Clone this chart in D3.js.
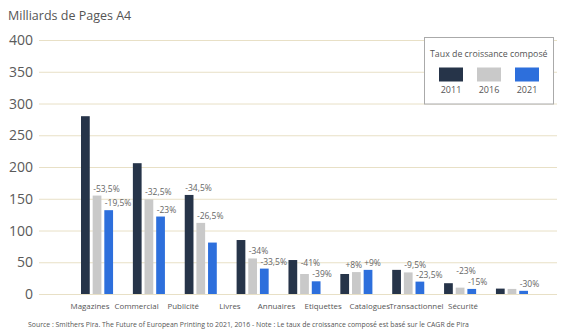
<!DOCTYPE html>
<html><head><meta charset="utf-8">
<script src="https://cdn.jsdelivr.net/npm/d3@7"></script>
<style>body{margin:0;background:#fff}svg{display:block;font-family:"Open Sans",sans-serif}</style>
</head><body><svg id="c" width="566" height="330"></svg>
<script>
const categories = ["Magazines","Commercial","Publicité","Livres","Annuaires","Etiquettes","Catalogues","Transactionnel","Sécurité"];
const seriesNames = ["2011","2016","2021"];
const v2011 = [280,206,156,85,53.5,31.5,38,17,8.5];
const v2016 = [155,149,112,56,31.5,34.5,34,10,8];
const v2021 = [132,122,81,40,20,38,19.5,8,5];
// growth labels: [category, series, text]
const growthLabels = [
  ["Magazines","2016","-53,5%"],["Magazines","2021","-19,5%"],
  ["Commercial","2016","-32,5%"],["Commercial","2021","-23%"],
  ["Publicité","2011","-34,5%"],["Publicité","2016","-26,5%"],
  ["Livres","2016","-34%"],["Livres","2021","-33,5%"],
  ["Annuaires","2016","-41%"],["Annuaires","2021","-39%"],
  ["Etiquettes","2016","+8%"],["Etiquettes","2021","+9%"],
  ["Catalogues","2016","-9,5%"],["Catalogues","2021","-23,5%"],
  ["Transactionnel","2016","-23%"],["Transactionnel","2021","-15%"],
  ["Sécurité","2021","-30%"]
];
const yTicks = [0,50,100,150,200,250,300,350,400];
const colors = ["#263449","#c9c9c9","#2d6fdc"];

const valuesBySeries = {"2011":v2011,"2016":v2016,"2021":v2021};
const svg = d3.select("#c");
const y = d3.scaleLinear().domain([0,400]).range([294,40]);
const x0 = d3.scaleBand().domain(categories).range([71.1,537.9]).paddingInner(0.382).paddingOuter(0.191);
const x1 = d3.scaleBand().domain(seriesNames).range([0,x0.bandwidth()]).paddingInner(0.25);
const color = d3.scaleOrdinal().domain(seriesNames).range(colors);
const xLab = d3.scalePoint().domain(categories).range([90,463]);

// title
svg.append("text").attr("x",8).attr("y",20).attr("font-size",12.5).attr("fill","#555").text("Milliards de Pages A4");

// grid
svg.append("g").selectAll("line").data(yTicks).join("line")
  .attr("x1",39).attr("x2",557).attr("y1",d=>y(d)+0.5).attr("y2",d=>y(d)+0.5)
  .attr("stroke","#e8e0c6").attr("stroke-width",1);
svg.append("g").selectAll("text").data(yTicks).join("text")
  .attr("x",33).attr("y",d=>y(d)+5).attr("text-anchor","end")
  .attr("font-size",14).attr("fill","#5a5a5a").text(d=>d);

// bars
const g = svg.append("g");
categories.forEach((c,i)=>{
  seriesNames.forEach(s=>{
    const v = valuesBySeries[s][i];
    g.append("rect").attr("x",x0(c)+x1(s)).attr("width",x1.bandwidth())
      .attr("y",y(v)).attr("height",y(0)-y(v)).attr("fill",color(s));
  });
});

// growth labels with simple collision handling
const lbl = svg.append("g").selectAll("text").data(growthLabels).join("text")
  .attr("font-size",8.5).attr("fill","#666").text(d=>d[2])
  .each(function(d){
    d.x = x0(d[0])+x1(d[1])+0.5;
    d.y = y(valuesBySeries[d[1]][categories.indexOf(d[0])])-4;
    d.w = this.getComputedTextLength();
  });
const ld = lbl.data();
const capH = 8;
for (let i=0;i<ld.length-1;i++){
  const a = ld[i], b = ld[i+1];
  if (a[0]!==b[0]) continue;
  const hOver = a.x + a.w + 1 - b.x;
  const vOver = !(a.y < b.y - capH - 1 || b.y < a.y - capH - 1);
  if (hOver>0 && vOver){
    if (a.y > b.y) { a.x -= hOver + 1; }
    else { a.y = b.y - capH - 3; }
  }
}
lbl.attr("x",d=>d.x).attr("y",d=>d.y);

// category labels
svg.append("g").selectAll("text").data(categories).join("text")
  .attr("x",d=>xLab(d)).attr("y",308.5).attr("text-anchor","middle")
  .attr("font-size",7.9).attr("fill","#555").text(d=>d);

// source
svg.append("text").attr("x",28).attr("y",326.5).attr("font-size",6.9).attr("fill","#555")
  .text("Source : Smithers Pira. The Future of European Printing to 2021, 2016 - Note : Le taux de croissance composé est basé sur le CAGR de Pira");

// legend
const lg = svg.append("g");
lg.append("rect").attr("x",424.5).attr("y",37.5).attr("width",129).attr("height",66.5)
  .attr("fill","#fff").attr("stroke","#aaa").attr("stroke-width",1);
lg.append("text").attr("x",430).attr("y",57).attr("font-size",8.8).attr("fill","#555").text("Taux de croissance composé");
const lx = d3.scalePoint().domain(seriesNames).range([451,527]);
seriesNames.forEach(s=>{
  lg.append("rect").attr("x",lx(s)-12).attr("y",67.5).attr("width",24).attr("height",14).attr("fill",color(s));
  lg.append("text").attr("x",lx(s)).attr("y",92.5).attr("text-anchor","middle").attr("font-size",9).attr("fill","#555").text(s);
});
</script></body></html>
